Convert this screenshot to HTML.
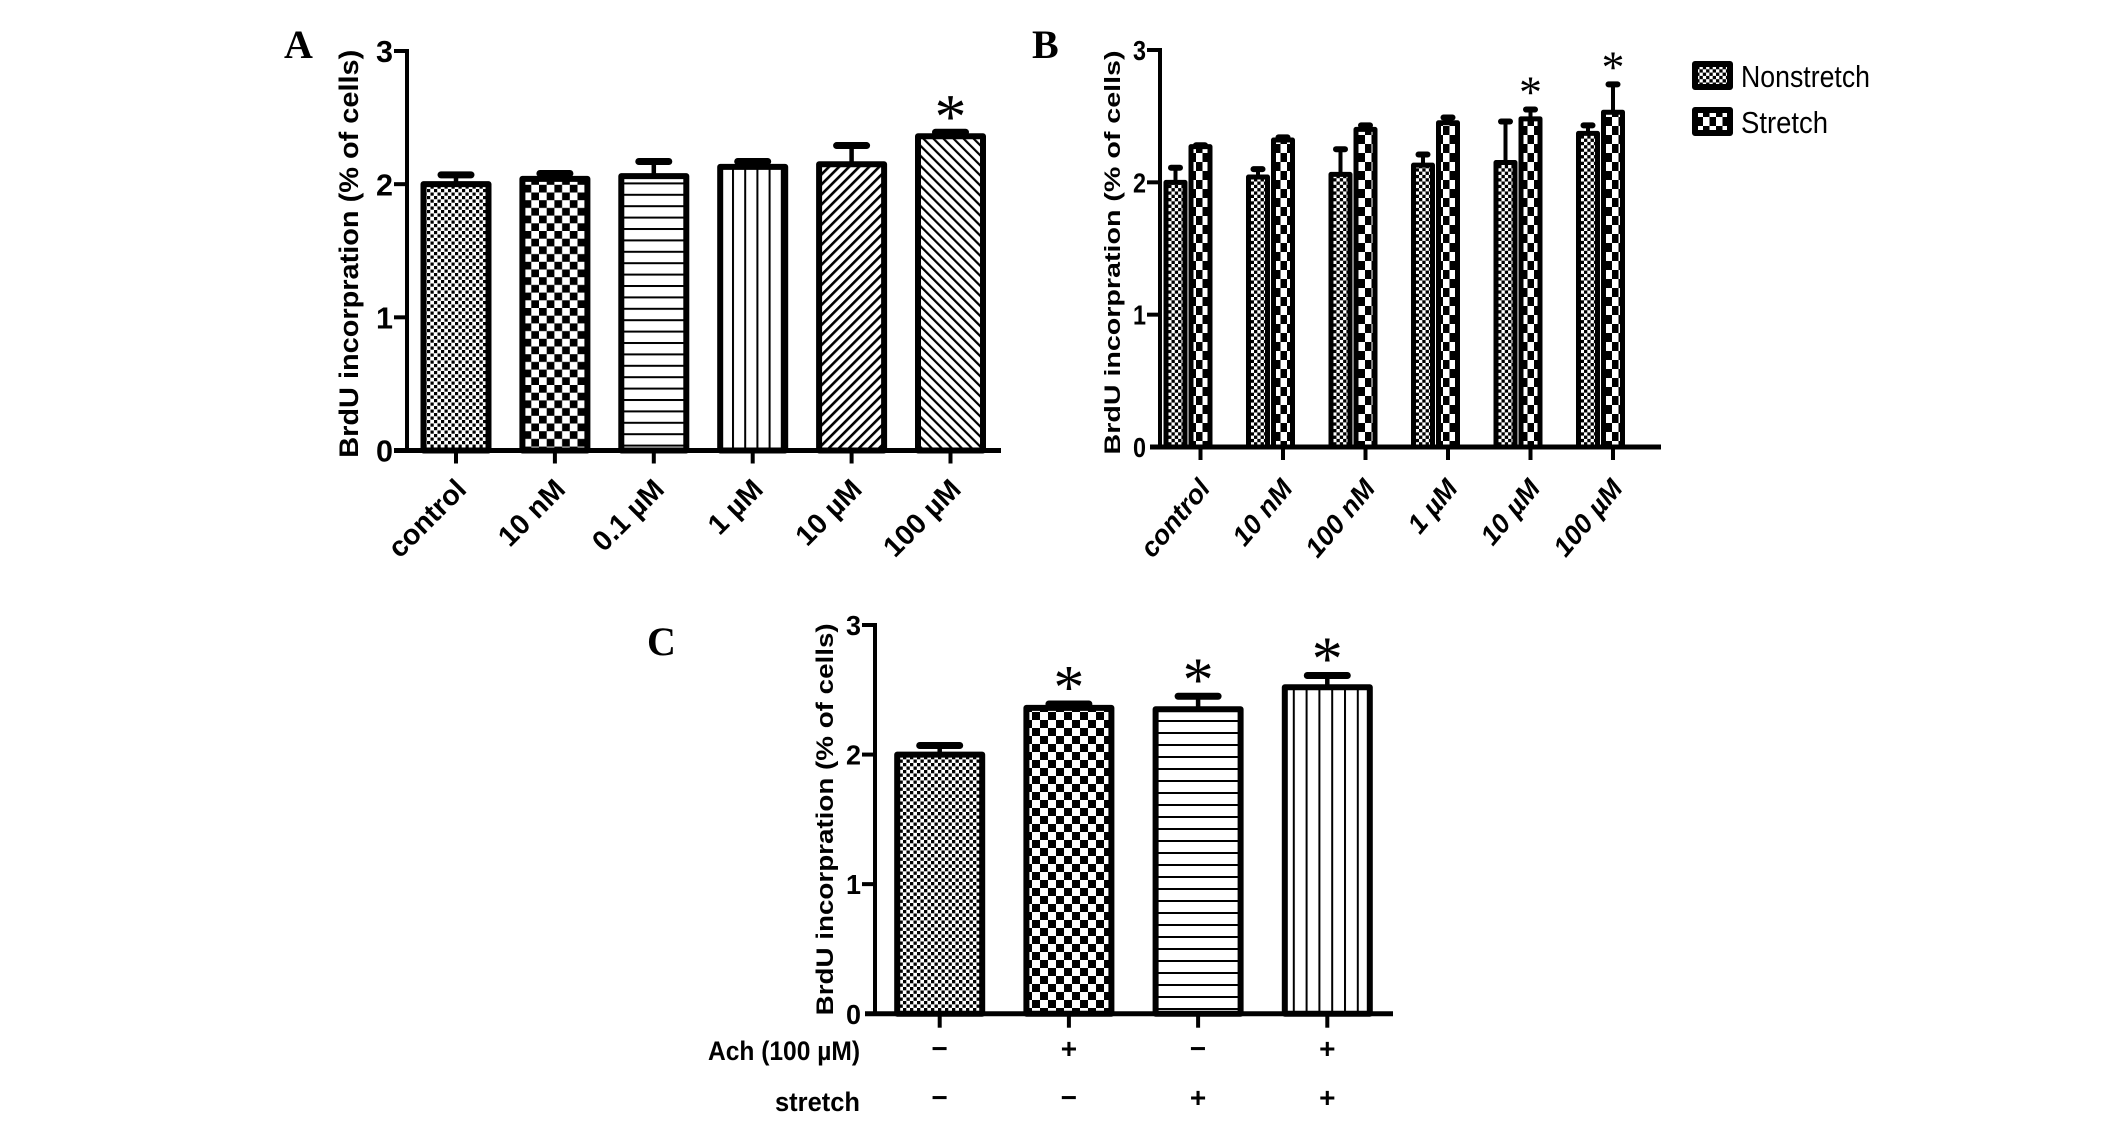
<!DOCTYPE html>
<html lang="en">
<head>
<meta charset="utf-8">
<title>BrdU incorporation bar charts</title>
<style>
html,body{margin:0;padding:0;background:#fff;width:2126px;height:1122px;overflow:hidden}
svg{display:block}
text{fill:#000;font-family:"Liberation Sans",sans-serif}
</style>
</head>
<body>
<svg id="fig" xmlns="http://www.w3.org/2000/svg" width="2126" height="1122" viewBox="0 0 2126 1122">
<defs>
<pattern id="fineA" patternUnits="userSpaceOnUse" width="7" height="7"><rect width="7" height="7" fill="#fff"/><rect width="3.2" height="3.2" fill="#000"/><rect x="3.5" y="3.5" width="3.2" height="3.2" fill="#000"/></pattern>
<pattern id="coarseA" patternUnits="userSpaceOnUse" width="15.4" height="15.4"><rect width="15.4" height="15.4" fill="#fff"/><rect width="7.7" height="7.7" fill="#000"/><rect x="7.7" y="7.7" width="7.7" height="7.7" fill="#000"/></pattern>
<pattern id="horizA" patternUnits="userSpaceOnUse" width="10" height="11.4"><rect width="10" height="11.4" fill="#fff"/><rect width="10" height="2" fill="#000"/></pattern>
<pattern id="vertA" patternUnits="userSpaceOnUse" width="12.2" height="10"><rect width="12.2" height="10" fill="#fff"/><rect width="2" height="10" fill="#000"/></pattern>
<pattern id="diagF" patternUnits="userSpaceOnUse" width="7.1" height="7.1" patternTransform="rotate(45)"><rect width="7.1" height="7.1" fill="#fff"/><rect width="2.6" height="7.1" fill="#000"/></pattern>
<pattern id="diagB" patternUnits="userSpaceOnUse" width="7.1" height="7.1" patternTransform="rotate(-45)"><rect width="7.1" height="7.1" fill="#fff"/><rect width="2.2" height="7.1" fill="#000"/></pattern>
<pattern id="fineB" patternUnits="userSpaceOnUse" width="6.6" height="6.6"><rect width="6.6" height="6.6" fill="#fff"/><rect width="3.3" height="3.3" fill="#000"/><rect x="3.3" y="3.3" width="3.3" height="3.3" fill="#000"/></pattern>
<pattern id="coarseB" patternUnits="userSpaceOnUse" width="13" height="18"><rect width="13" height="18" fill="#fff"/><rect width="6.5" height="9" fill="#000"/><rect x="6.5" y="9" width="6.5" height="9" fill="#000"/></pattern>
<pattern id="fineC" patternUnits="userSpaceOnUse" width="7" height="7"><rect width="7" height="7" fill="#fff"/><rect width="3.3" height="3.3" fill="#000"/><rect x="3.5" y="3.5" width="3.3" height="3.3" fill="#000"/></pattern>
<pattern id="coarseC" patternUnits="userSpaceOnUse" width="16" height="16"><rect width="16" height="16" fill="#fff"/><rect width="8" height="8" fill="#000"/><rect x="8" y="8" width="8" height="8" fill="#000"/></pattern>
<pattern id="horizC" patternUnits="userSpaceOnUse" width="10" height="12"><rect width="10" height="12" fill="#fff"/><rect width="10" height="2" fill="#000"/></pattern>
<pattern id="vertC" patternUnits="userSpaceOnUse" width="12.8" height="10"><rect width="12.8" height="10" fill="#fff"/><rect width="2" height="10" fill="#000"/></pattern>
</defs>
</svg>
<script>
// y-axis ticks (shared)
const yTicks = [0, 1, 2, 3];
// Panel A
const catsA = ['control', '10 nM', '0.1 µM', '1 µM', '10 µM', '100 µM'];
const valsA = [2.0, 2.04, 2.06, 2.13, 2.15, 2.36];
const errsA = [2.07, 2.08, 2.17, 2.17, 2.29, 2.39];
const starsA = [false, false, false, false, false, true];
// Panel B
const catsB = ['control', '10 nM', '100 nM', '1 µM', '10 µM', '100 µM'];
const nonstretchVals = [2.0, 2.04, 2.06, 2.13, 2.15, 2.37];
const nonstretchErrs = [2.11, 2.1, 2.25, 2.21, 2.46, 2.43];
const stretchVals = [2.27, 2.32, 2.4, 2.45, 2.48, 2.53];
const stretchErrs = [2.28, 2.34, 2.43, 2.49, 2.55, 2.74];
const starsB = [false, false, false, false, true, true];
// Panel C
const valsC = [2.0, 2.36, 2.35, 2.52];
const errsC = [2.07, 2.39, 2.45, 2.61];
const starsC = [false, true, true, true];
const achRow = ['−', '+', '−', '+'];
const stretchRow = ['−', '−', '+', '+'];
const legendLabels = ['Nonstretch', 'Stretch'];

const svg = document.getElementById('fig');
function mk(tag, attrs, parent, txt) {
  const el = document.createElementNS('http://www.w3.org/2000/svg', tag);
  for (const k in attrs) el.setAttribute(k, attrs[k]);
  if (txt !== undefined) el.textContent = txt;
  (parent || svg).appendChild(el);
  
  return el;
}
function linScale(y0, y3) { return v => y0 + (y3 - y0) * v / 3; }
function bandScale(first, step) { return i => first + step * i; }

function axes(g, cfg, y) {
  let el = mk('line', {x1: cfg.axisX, x2: cfg.axisX, y1: y(3) - 2, y2: y(0), stroke: '#000', 'stroke-width': 4}, g);
  
  el = mk('line', {x1: cfg.baseL, x2: cfg.baseR, y1: y(0), y2: y(0), stroke: '#000', 'stroke-width': 5}, g);
  
  yTicks.forEach(t => {
    if (t > 0) {
      const tk = mk('line', {x1: cfg.axisX - 13, x2: cfg.axisX, y1: y(t), y2: y(t), stroke: '#000', 'stroke-width': 4}, g);
      
    }
    const lb = mk('text', {x: cfg.axisX - 14, y: y(t) + cfg.tickFont * 0.36, 'text-anchor': 'end', 'font-size': cfg.tickFont, 'font-weight': 'bold', textLength: cfg.tickW, lengthAdjust: 'spacingAndGlyphs'}, g, String(t));
    
  });
  const tx = cfg.titleX, ty = (y(0) + y(3)) / 2 + cfg.titleDy;
  const title = mk('text', {transform: `translate(${tx},${ty}) rotate(-90)`, 'text-anchor': 'middle', 'font-size': cfg.titleFont, 'font-weight': 'bold', textLength: cfg.titleLen, lengthAdjust: 'spacingAndGlyphs'}, g, 'BrdU incorpration (% of cells)');
  
}
function bar(g, cx, w, v, e, y, fill, capW, cfg) {
  const stem = mk('line', {x1: cx, x2: cx, y1: y(v), y2: y(e), stroke: '#000', 'stroke-width': cfg.stem}, g);
  
  const cap = mk('line', {x1: cx - capW / 2, x2: cx + capW / 2, y1: y(e), y2: y(e), stroke: '#000', 'stroke-width': cfg.capH, 'stroke-linecap': 'round'}, g);
  
  const r = mk('rect', {x: cx - w / 2, y: y(v), width: w, height: y(0) - y(v), fill: 'url(#' + fill + ')', stroke: '#000', 'stroke-width': cfg.stroke, 'stroke-linejoin': 'round'}, g);
  
}
function star(g, cx, yy, size) {
  const s = mk('text', {x: cx, y: yy, 'text-anchor': 'middle', 'font-size': size, style: 'font-family:"Liberation Serif",serif'}, g, '*');
  
}
function tick(g, x, y0, len) {
  const t = mk('line', {x1: x, x2: x, y1: y0, y2: y0 + len, stroke: '#000', 'stroke-width': 4}, g);
  
}
function panelLetter(x, y, s) {
  const l = mk('text', {x, y, 'font-size': 40, 'font-weight': 'bold', style: 'font-family:"Liberation Serif",serif'}, svg, s);
  
}

// ----- Panel A
(function () {
  const g = mk('g', {});
  
  const cfg = {axisX: 407, baseL: 394, baseR: 1001, tickFont: 31, tickW: 17, titleX: 358, titleDy: 3, titleFont: 27, titleLen: 408, stroke: 6, stem: 4.5, capH: 7};
  const y = linScale(450.5, 51), x = bandScale(456, 98.9);
  const fills = ['fineA', 'coarseA', 'horizA', 'vertA', 'diagF', 'diagB'];
  catsA.forEach((c, i) => {
    bar(g, x(i), 65, valsA[i], errsA[i], y, fills[i], 30, cfg);
    tick(g, x(i), 450.5, 13);
    const lb = mk('text', {transform: `translate(${x(i) + 12},${491}) rotate(-45)`, 'text-anchor': 'end', 'font-size': 28.5, 'font-weight': 'bold'}, g, c);
    
    if (starsA[i]) star(g, x(i), y(errsA[i]) + 6, 64);
  });
  axes(g, cfg, y);
})();

// ----- Panel B
(function () {
  const g = mk('g', {});
  
  const cfg = {axisX: 1160, baseL: 1150, baseR: 1661, tickFont: 28, tickW: 13, titleX: 1120, titleDy: 4, titleFont: 22, titleLen: 404, stroke: 5, stem: 4, capH: 6};
  const y = linScale(447, 50), x = bandScale(1200.5, 82.5);
  catsB.forEach((c, i) => {
    bar(g, x(i) - 25, 19, nonstretchVals[i], nonstretchErrs[i], y, 'fineB', 9, cfg);
    bar(g, x(i), 19, stretchVals[i], stretchErrs[i], y, 'coarseB', 9, cfg);
    tick(g, x(i), 447, 13);
    const lb = mk('text', {transform: `translate(${x(i) + 11},${489}) rotate(-50)`, 'text-anchor': 'end', 'font-size': 27, 'font-weight': 'bold', 'font-style': 'italic'}, g, c);
    
    if (starsB[i]) star(g, x(i), y(stretchErrs[i]) - 2, 46);
  });
  axes(g, cfg, y);
})();

// ----- Legend
(function () {
  const g = mk('g', {});
  
  const fills = ['fineB', 'coarseB'];
  const lens = [129, 87];
  legendLabels.forEach((s, i) => {
    const yy = 64 + i * 46;
    const entry = mk('g', {}, g);
    
    const r = mk('rect', {x: 1695, y: yy, width: 35, height: 23, fill: 'url(#' + fills[i] + ')', stroke: '#000', 'stroke-width': 6, 'stroke-linejoin': 'round'}, entry);
    
    const t = mk('text', {x: 1741, y: yy + 23, 'font-size': 31, textLength: lens[i], lengthAdjust: 'spacingAndGlyphs'}, entry, s);
    
  });
})();

// ----- Panel C
(function () {
  const g = mk('g', {});
  
  const cfg = {axisX: 875, baseL: 865, baseR: 1393, tickFont: 28, tickW: 15, titleX: 833, titleDy: 0, titleFont: 24, titleLen: 392, stroke: 6, stem: 4.5, capH: 7};
  const y = linScale(1013.7, 625), x = bandScale(939.7, 129.2);
  const fills = ['fineC', 'coarseC', 'horizC', 'vertC'];
  valsC.forEach((v, i) => {
    bar(g, x(i), 85, v, errsC[i], y, fills[i], 40, cfg);
    tick(g, x(i), 1013.7, 14);
    const a = mk('text', {x: x(i), y: 1058, 'text-anchor': 'middle', 'font-size': 28, 'font-weight': 'bold'}, g, achRow[i]);
    
    const b = mk('text', {x: x(i), y: 1107, 'text-anchor': 'middle', 'font-size': 28, 'font-weight': 'bold'}, g, stretchRow[i]);
    
    if (starsC[i]) star(g, x(i), y(errsC[i]) + 4, 62);
  });
  axes(g, cfg, y);
  const r1 = mk('text', {x: 860, y: 1060, 'text-anchor': 'end', 'font-size': 27, 'font-weight': 'bold', textLength: 152, lengthAdjust: 'spacingAndGlyphs'}, g, 'Ach (100 µM)');
  
  const r2 = mk('text', {x: 860, y: 1111, 'text-anchor': 'end', 'font-size': 27, 'font-weight': 'bold', textLength: 85, lengthAdjust: 'spacingAndGlyphs'}, g, 'stretch');
  
})();

panelLetter(284, 58, 'A');
panelLetter(1032, 58, 'B');
panelLetter(647, 655, 'C');
</script>
</body>
</html>
